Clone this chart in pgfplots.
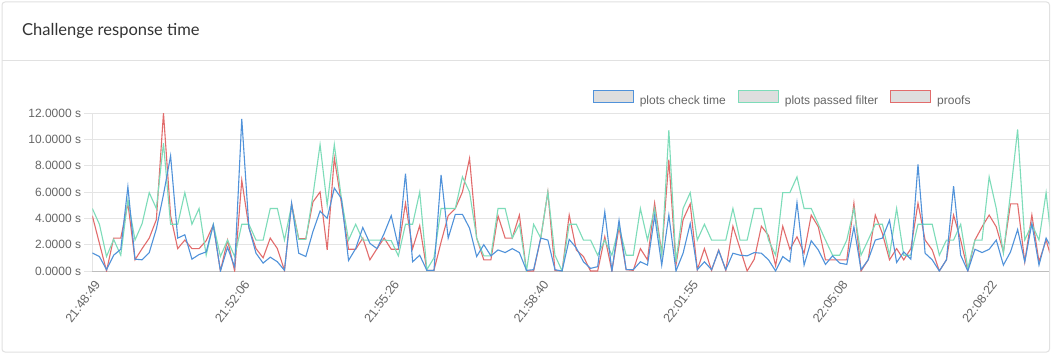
\documentclass[border=0pt]{standalone}
\usepackage{pgfplots}
\pgfplotsset{compat=1.18}
\usepackage{pgfplotstable}
\usepackage{fontspec}
\setmainfont{Liberation Sans}
\newfontfamily\titlefont{Lato}
\definecolor{cblue}{RGB}{80,146,218}
\definecolor{cgreen}{RGB}{125,220,185}
\definecolor{cred}{RGB}{226,108,108}
\definecolor{legfill}{RGB}{222,222,222}
\definecolor{tickgray}{RGB}{102,102,102}
\definecolor{gridgray}{RGB}{228,228,228}
\definecolor{axisgray}{RGB}{190,190,190}
\definecolor{cardborder}{RGB}{225,225,225}
\definecolor{titlegray}{RGB}{51,51,51}

\pgfplotstableread{
i b g r
0 1.37 4.75 4.2
1 1.1 3.55 2.1
2 0.1 1.1 0.0
3 1.2 2.4 2.5
4 1.65 1.2 2.5
5 6.4 5.4 5.15
6 0.9 2.35 0.85
7 0.85 3.6 1.7
8 1.4 5.95 2.5
9 3.2 4.75 3.9
10 5.8 9.7 12.0
11 8.75 3.55 4.2
12 2.5 3.55 1.7
13 2.75 5.95 2.35
14 0.9 3.55 1.7
15 1.25 4.75 1.7
16 1.45 1.2 2.3
17 3.5 3.55 3.5
18 0.0 1.1 0.0
19 1.8 2.35 2.35
20 0.3 1.1 0.0
21 11.55 3.55 6.9
22 3.3 3.55 3.3
23 1.35 2.35 1.7
24 0.6 2.35 1.0
25 1.05 4.75 2.5
26 0.7 4.75 1.7
27 0.05 2.35 0.05
28 5.15 5.0 5.1
29 1.35 2.4 2.45
30 1.1 2.4 2.45
31 3.0 5.75 5.25
32 4.55 9.6 6.0
33 4.0 5.0 1.6
34 6.3 9.6 8.6
35 5.5 5.5 5.15
36 0.8 2.35 1.65
37 1.7 3.55 1.65
38 3.3 2.35 2.5
39 2.1 2.35 0.85
40 1.7 2.35 1.7
41 2.85 2.35 2.5
42 4.2 2.3 1.65
43 1.85 1.15 1.65
44 7.4 3.55 5.15
45 0.7 3.55 1.7
46 1.2 6.0 3.45
47 0.05 0.1 0.05
48 0.05 1.0 0.05
49 7.3 4.75 2.2
50 2.5 4.75 4.2
51 4.3 4.75 4.75
52 4.3 7.15 6.0
53 3.25 6.0 8.55
54 1.1 2.5 2.5
55 2.0 1.15 0.85
56 1.15 1.15 0.85
57 1.6 4.75 4.2
58 1.4 4.75 2.5
59 1.7 2.5 2.5
60 1.4 3.55 4.25
61 0.05 0.0 0.0
62 0.1 3.55 0.0
63 2.5 2.5 2.5
64 2.35 6.0 6.0
65 0.1 1.2 0.05
66 0.0 0.0 0.0
67 2.4 3.55 4.25
68 1.75 3.55 1.6
69 0.7 2.35 1.1
70 0.2 2.35 0.0
71 0.33 1.2 0.0
72 4.5 2.35 2.6
73 0.0 1.2 0.0
74 3.85 3.4 3.35
75 0.1 1.2 0.1
76 0.1 1.2 0.05
77 0.7 4.75 1.7
78 0.45 2.35 0.85
79 4.2 4.75 5.15
80 0.45 1.2 1.35
81 4.25 10.7 8.45
82 0.0 0.7 0.45
83 1.35 4.75 3.9
84 3.6 5.95 5.1
85 0.1 2.35 0.1
86 0.7 3.55 1.7
87 0.1 2.35 0.05
88 1.55 2.35 1.6
89 0.1 2.35 0.05
90 1.35 4.75 3.4
91 1.2 2.35 1.7
92 1.15 2.35 0.0
93 1.4 4.75 0.9
94 1.35 4.75 3.4
95 0.85 2.35 2.7
96 0.0 1.2 0.4
97 1.1 5.95 3.4
98 0.7 5.95 1.65
99 5.2 7.15 2.6
100 0.45 4.75 1.35
101 2.3 4.75 4.25
102 1.6 3.55 3.35
103 0.5 2.35 0.85
104 1.15 1.2 0.85
105 0.6 1.2 0.85
106 0.5 2.35 0.85
107 3.35 4.75 5.15
108 0.1 1.2 0.0
109 0.85 2.35 0.85
110 2.35 3.55 4.25
111 2.5 3.55 2.85
112 3.85 1.2 0.85
113 0.65 4.75 1.7
114 1.45 1.2 0.85
115 0.9 1.2 1.7
116 8.1 3.55 5.15
117 1.35 3.55 2.35
118 0.85 3.55 1.6
119 0.0 1.2 0.0
120 0.85 2.35 0.85
121 6.45 2.35 4.25
122 1.2 3.55 2.35
123 0.0 0.2 0.0
124 1.65 2.35 2.35
125 1.4 2.35 3.35
126 1.65 7.15 4.25
127 2.35 4.75 3.35
128 0.45 1.35 1.45
129 1.45 5.9 5.1
130 3.15 10.75 5.1
131 0.7 2.35 0.7
132 3.6 3.55 4.25
133 0.45 2.35 0.7
134 2.5 5.95 2.35
135 1.5 1.0 0.5
}\datatable

\begin{document}
\begin{tikzpicture}[x=1pt,y=1pt]
\useasboundingbox (0,0) rectangle (1051,354);
\fill[white] (0,0) rectangle (1051,354);
\draw[cardborder, line width=1pt, rounded corners=3pt] (2,2) rectangle (1049.5,352);
\draw[cardborder, line width=1pt] (2,293) -- (1049.5,293);
\node[anchor=west, text=titlegray, inner sep=0pt, font=\titlefont\fontsize{16.5}{19}\selectfont] at (22,323) {Challenge response time};
\begin{axis}[
  at={(92.3pt,83pt)}, anchor=south west,
  scale only axis, width=957pt, height=158pt,
  xmin=0, xmax=134.45, ymin=0, ymax=12,
  clip=true,
  axis x line*=bottom, axis y line*=left,
  axis line style={-, line width=1pt},
  x axis line style={axisgray},
  y axis line style={gridgray},
  ymajorgrids, grid style={gridgray, line width=1pt},
  ytick={0,2,4,6,8,10,12},
  xtick={0,21,42,63,84,105,126},
  xticklabels={21:48:49,21:52:06,21:55:26,21:58:40,22:01:55,22:05:08,22:08:22},
  tick align=outside,
  x tick style={draw=none},
  y tick style={gridgray, line width=1pt},
  major tick length=8pt,
  /pgf/number format/assume math mode=true,
  yticklabel={\pgfmathprintnumber[fixed,fixed zerofill,precision=4]{\tick} s},
  yticklabel style={font=\fontsize{12}{14}\selectfont, text=tickgray, inner sep=3pt},
  xticklabel style={font=\fontsize{12.5}{14}\selectfont, text=tickgray, rotate=53, anchor=east, xshift=4pt, yshift=-6pt},
  legend columns=-1,
  legend style={draw=none, fill=none, inner sep=0pt, outer sep=0pt,
    at={(axis description cs:0.523,1)}, anchor=south west, yshift=7pt,
    nodes={inner sep=0pt, text=tickgray, font=\fontsize{12}{14}\selectfont},
    /tikz/every odd column/.append style={column sep=6pt},
    /tikz/every even column/.append style={column sep=12pt}},
  legend image code/.code={\draw[#1, line width=1pt, fill=legfill] (0pt,-2pt) rectangle (40pt,10pt);},
]
\addplot[cred, line width=1.1pt, forget plot] table[x=i, y=r] {\datatable};
\addplot[cgreen, line width=1.1pt, forget plot] table[x=i, y=g] {\datatable};
\addplot[cblue, line width=1.1pt] table[x=i, y=b] {\datatable};
\addlegendentry{plots check time}
\addlegendimage{cgreen}
\addlegendentry{plots passed filter}
\addlegendimage{cred}
\addlegendentry{proofs}
\end{axis}
\end{tikzpicture}
\end{document}
